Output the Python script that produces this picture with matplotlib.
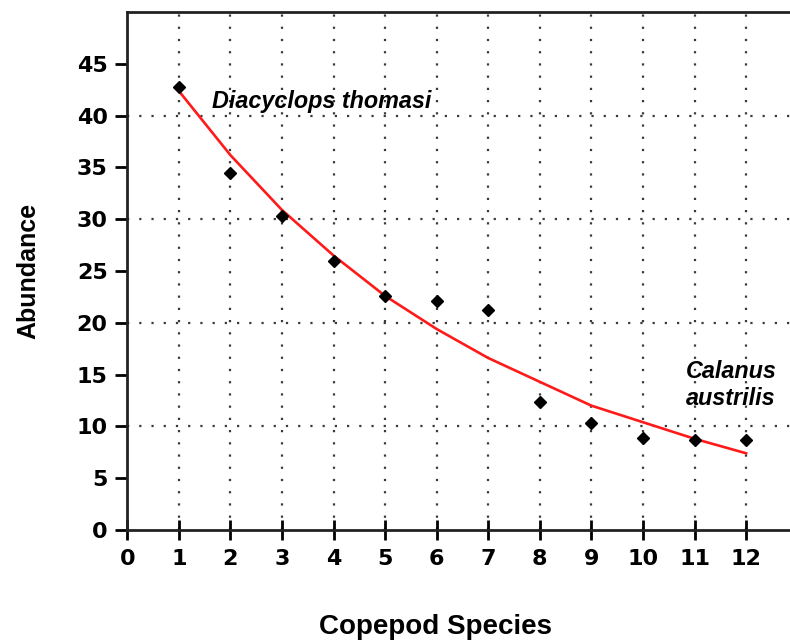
import matplotlib.pyplot as plt
from matplotlib.ticker import MultipleLocator

# observed abundance per species rank
species = [1, 2, 3, 4, 5, 6, 7, 8, 9, 10, 11, 12]
abundance = [42.8, 34.5, 30.3, 26.0, 22.6, 22.1, 21.2, 12.4, 10.3, 8.9, 8.7, 8.7]

# fitted curve at each species rank
fit = [42.4, 36.2, 30.9, 26.5, 22.6, 19.4, 16.6, 14.3, 12.0, 10.4, 8.8, 7.4]

hgrid = [10, 20, 30, 40]

plt.rcParams['font.family'] = ['Liberation Sans', 'DejaVu Sans']

fig = plt.figure(figsize=(7.9, 6.4), dpi=100)
ax = fig.add_axes([0.161, 0.172, 0.839, 0.809])

ax.set_xlim(0, 12.85)
ax.set_ylim(0, 50)

# dotted grid: vertical at each species, horizontal every 10
ax.xaxis.set_major_locator(MultipleLocator(1))
ax.yaxis.set_major_locator(MultipleLocator(5))
ax.grid(axis='x', color='#3a3a3a', linestyle=(0, (1, 4.5)), linewidth=1.6)
for yv in hgrid:
    ax.axhline(yv, color='#3a3a3a', linestyle=(0, (1, 4.5)), linewidth=1.6, zorder=0.5)
ax.set_axisbelow(True)

ax.plot(species, fit, '-', color='#ff1a1a', linewidth=1.9, zorder=2)
ax.plot(species, abundance, 'D', color='black', markersize=6.5, zorder=3)

# tick labels
ax.set_yticks(range(0, 50, 5))
ax.set_xticks(range(0, 13))
for lab in ax.get_xticklabels() + ax.get_yticklabels():
    lab.set_family(['DejaVu Sans'])
    lab.set_fontweight('bold')
    lab.set_fontsize(16)
ax.tick_params(axis='y', direction='out', length=9, width=2, pad=5)
ax.tick_params(axis='x', direction='inout', length=14, width=2, pad=7)

for s in ['left', 'bottom', 'top']:
    ax.spines[s].set_linewidth(2)
    ax.spines[s].set_color('#222222')
ax.spines['right'].set_visible(False)

ax.set_xlabel('Copepod Species', fontsize=20, fontweight='bold', va='center')
ax.xaxis.set_label_coords(0.465, -0.187)
ax.set_ylabel('Abundance', fontsize=18, fontweight='bold')
ax.yaxis.set_label_coords(-0.131, 0.5)

ax.text(1.65, 41.4, 'Diacyclops thomasi', fontsize=16.8, fontweight='bold',
        fontstyle='italic', va='center', ha='left')
ax.text(10.83, 14.0, 'Calanus\naustrilis', fontsize=16.8, fontweight='bold',
        fontstyle='italic', va='center', ha='left', linespacing=1.25)

plt.savefig('out.png', dpi=100)
